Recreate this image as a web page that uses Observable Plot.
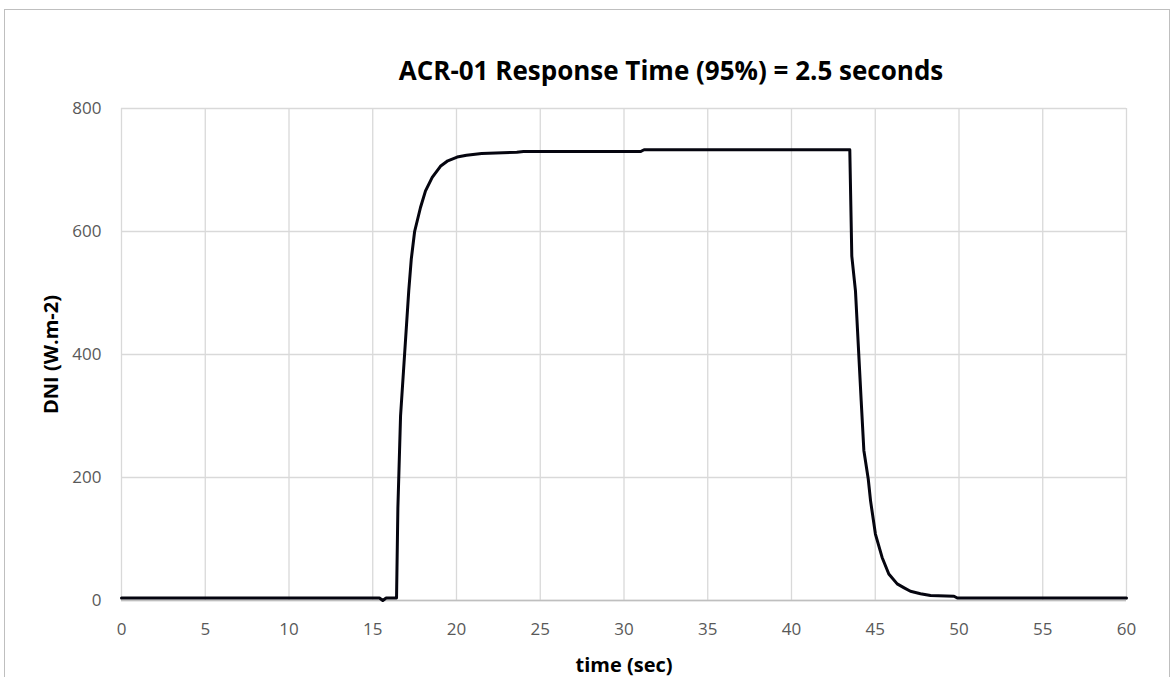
<!DOCTYPE html>
<html><head><meta charset="utf-8">
<script src="https://cdn.jsdelivr.net/npm/d3@7"></script>
<script src="https://cdn.jsdelivr.net/npm/@observablehq/plot@0.6"></script>
<style>
body{margin:0;background:#fff;overflow:hidden;width:1174px;height:677px;position:relative;font-family:"Open Sans",sans-serif}
#frame{position:absolute;left:4px;top:9px;width:1164px;height:720px;border:1px solid #bfbfbf;pointer-events:none}
#title{position:absolute;left:371px;top:53px;width:600px;text-align:center;font-size:26px;font-weight:bold;color:#000;line-height:34px;white-space:nowrap}
#chart{position:absolute;left:0;top:90px}
</style></head>
<body>
<div id="frame"></div>
<div id="title">ACR-01 Response Time (95%) = 2.5 seconds</div>
<div id="chart"></div>
<script>
const timeSec = [0, 5, 10, 15, 15.4, 15.6, 15.8, 16.42, 16.5, 16.66, 16.9, 17.15, 17.3, 17.5, 17.85, 18.15, 18.55, 19.04, 19.48, 20.04, 20.6, 21.5, 23.6, 24, 31, 31.2, 43.48, 43.6, 43.82, 44.16, 44.32, 44.58, 44.72, 45.01, 45.41, 45.81, 46.31, 46.7, 47.1, 47.7, 48.3, 49.7, 49.9, 55, 60];
const dniValues = [4, 4, 4, 4, 4, 0, 4, 4, 150, 300, 400, 504, 555, 600, 639, 666, 688, 706, 715, 721, 724, 727, 729, 730, 730, 733, 733, 560, 503, 325, 244, 198, 162, 108, 70, 43, 27, 21, 15, 11, 8, 7, 4, 4, 4];
const xTicks = [0, 5, 10, 15, 20, 25, 30, 35, 40, 45, 50, 55, 60];
const yTicks = [0, 200, 400, 600, 800];
const xLabel = "time (sec)";
const yLabel = "DNI (W.m-2)";

const data = timeSec.map((t, i) => ({t, v: dniValues[i]}));
const font = "'Open Sans', sans-serif";

const chart = Plot.plot({
  width: 1174,
  height: 587,
  marginTop: 18,
  marginBottom: 77,
  marginLeft: 121,
  marginRight: 48,
  style: {fontFamily: font, fontSize: "17px", color: "#595959", background: "transparent"},
  x: {domain: [0, 60], label: null},
  y: {domain: [0, 800], label: null},
  marks: [
    Plot.gridX(xTicks, {stroke: "#d9d9d9", strokeOpacity: 1, strokeWidth: 1.3}),
    Plot.gridY(yTicks, {stroke: "#d9d9d9", strokeOpacity: 1, strokeWidth: 1.3}),
    Plot.ruleY([0], {stroke: "#bfbfbf", strokeWidth: 1.3}),
    Plot.line(data, {x: "t", y: "v", stroke: "#05050f", strokeWidth: 3, strokeLinejoin: "round"}),
    Plot.axisX(xTicks, {tickSize: 0, tickPadding: 22, fontSize: 17, fill: "#595959", label: null}),
    Plot.axisY(yTicks, {tickSize: 0, tickPadding: 20, fontSize: 17, fill: "#595959", label: null}),
    Plot.text([xLabel], {frameAnchor: "bottom", lineAnchor: "middle", dy: 65, text: d => d, fontWeight: "bold", fontSize: 20, fill: "#000"}),
    Plot.text([yLabel], {frameAnchor: "left", textAnchor: "middle", lineAnchor: "middle", dx: -69.5, rotate: -90, text: d => d, fontWeight: "bold", fontSize: 20, fill: "#000"})
  ]
});
document.getElementById("chart").appendChild(chart);
</script>
</body></html>
